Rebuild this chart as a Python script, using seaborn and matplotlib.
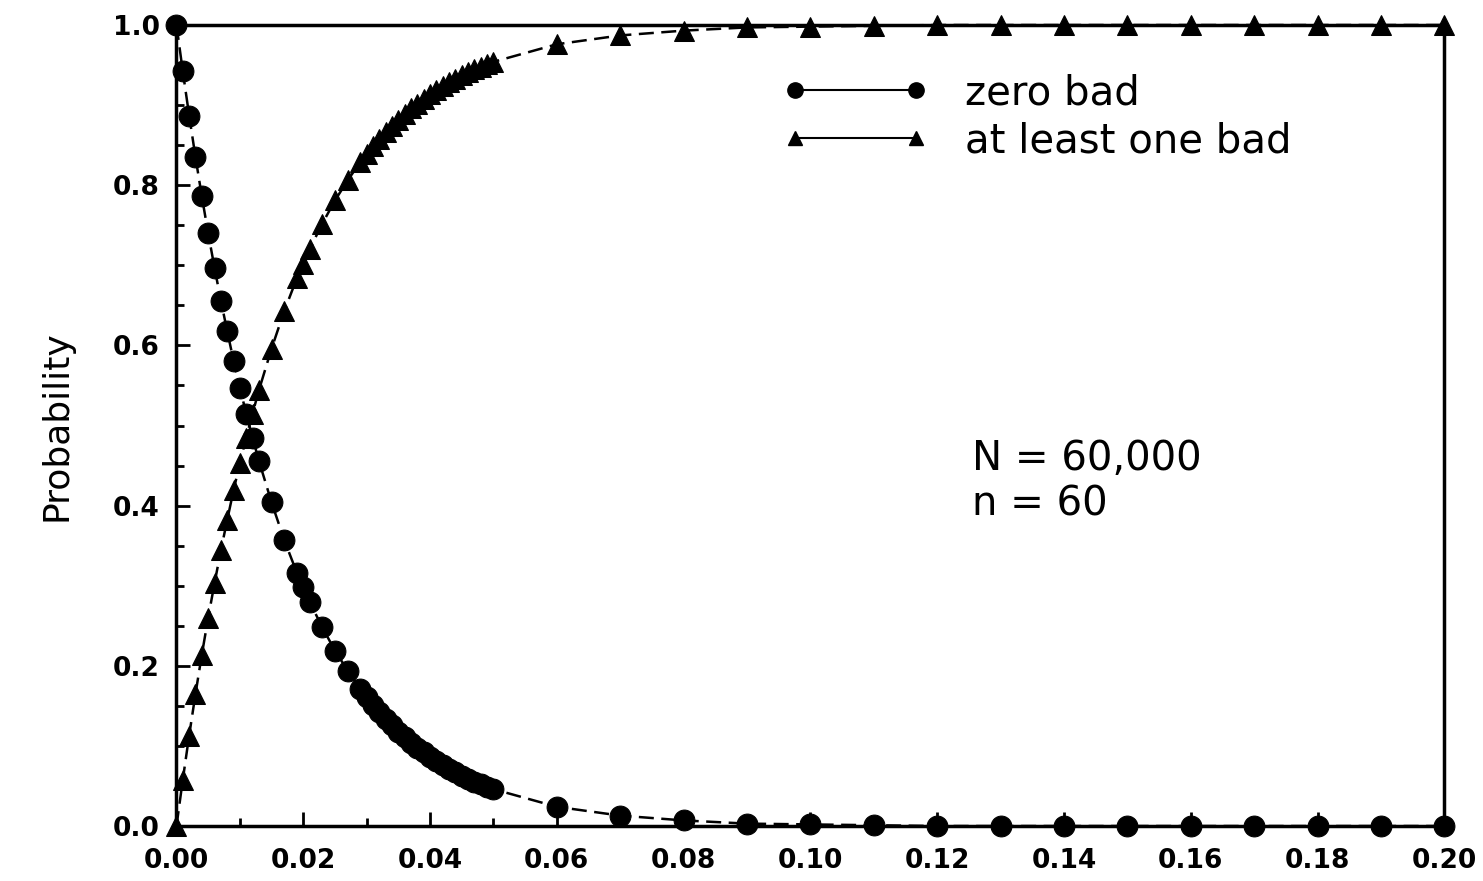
import numpy as np
import pandas as pd
import seaborn as sns
import matplotlib.pyplot as plt
from matplotlib.lines import Line2D
from matplotlib.ticker import MultipleLocator

# fraction defective (x axis)
frac_bad = [0.000, 0.001, 0.002, 0.003, 0.004, 0.005, 0.006, 0.007, 0.008, 0.009,
            0.010, 0.011, 0.012, 0.013, 0.015, 0.017, 0.019, 0.020, 0.021, 0.023,
            0.025, 0.027, 0.029, 0.030, 0.031, 0.032, 0.033, 0.034, 0.035, 0.036,
            0.037, 0.038, 0.039, 0.040, 0.041, 0.042, 0.043, 0.044, 0.045, 0.046,
            0.047, 0.048, 0.049, 0.050, 0.06, 0.07, 0.08, 0.09, 0.10, 0.11,
            0.12, 0.13, 0.14, 0.15, 0.16, 0.17, 0.18, 0.19, 0.20]

# probability of zero bad in the sample
zero_bad = [1.000, 0.942, 0.887, 0.835, 0.786, 0.740, 0.697, 0.656, 0.618, 0.581,
            0.547, 0.515, 0.485, 0.456, 0.404, 0.357, 0.316, 0.298, 0.280, 0.248,
            0.219, 0.194, 0.171, 0.161, 0.151, 0.142, 0.134, 0.126, 0.118, 0.111,
            0.104, 0.098, 0.092, 0.086, 0.081, 0.076, 0.071, 0.067, 0.063, 0.059,
            0.055, 0.052, 0.049, 0.046, 0.024, 0.013, 0.007, 0.003, 0.002, 0.001,
            0.000, 0.000, 0.000, 0.000, 0.000, 0.000, 0.000, 0.000, 0.000]

# probability of at least one bad
one_bad = [0.000, 0.058, 0.113, 0.165, 0.214, 0.260, 0.303, 0.344, 0.382, 0.419,
           0.453, 0.485, 0.515, 0.544, 0.596, 0.643, 0.684, 0.702, 0.720, 0.752,
           0.781, 0.806, 0.829, 0.839, 0.849, 0.858, 0.866, 0.874, 0.882, 0.889,
           0.896, 0.902, 0.908, 0.914, 0.919, 0.924, 0.929, 0.933, 0.937, 0.941,
           0.945, 0.948, 0.951, 0.954, 0.976, 0.987, 0.993, 0.997, 0.998, 0.999,
           1.000, 1.000, 1.000, 1.000, 1.000, 1.000, 1.000, 1.000, 1.000]

df = pd.DataFrame({'p': frac_bad, 'zero': zero_bad, 'one': one_bad})

sns.set_style("ticks")
plt.rcParams['font.family'] = ['DejaVu Sans']
plt.rcParams['text.color'] = 'black'
plt.rcParams['axes.labelcolor'] = 'black'

fig = plt.figure(figsize=(14.83, 8.81), dpi=100)
ax = fig.add_axes([0.119, 0.0624, 0.855, 0.9092])

sns.lineplot(data=df, x='p', y='zero', marker='o', markersize=15, color='black',
             linestyle=(0, (6, 3)), linewidth=1.8, markeredgecolor='black',
             clip_on=False, zorder=3, ax=ax)
sns.lineplot(data=df, x='p', y='one', marker='^', markersize=14, color='black',
             linestyle=(0, (6, 3)), linewidth=1.8, markeredgecolor='black',
             clip_on=False, zorder=3, ax=ax)

ax.set_xlim(0, 0.20)
ax.set_ylim(0, 1.0)
ax.xaxis.set_major_locator(MultipleLocator(0.02))
ax.xaxis.set_minor_locator(MultipleLocator(0.01))
ax.yaxis.set_major_locator(MultipleLocator(0.2))
ax.yaxis.set_minor_locator(MultipleLocator(0.05))
ax.tick_params(which='both', direction='in', width=2, colors='black')
ax.tick_params(which='major', length=10, labelsize=19)
ax.tick_params(axis='x', which='major', pad=16)
ax.tick_params(axis='y', which='major', pad=12)
ax.tick_params(which='minor', length=6)
ax.xaxis.set_major_formatter(plt.FuncFormatter(lambda v, _: '{:.2f}'.format(v)))
ax.yaxis.set_major_formatter(plt.FuncFormatter(lambda v, _: '{:.1f}'.format(v)))
for lab in ax.get_xticklabels() + ax.get_yticklabels():
    lab.set_fontweight('bold')
for s in ax.spines.values():
    s.set_linewidth(2.5)
    s.set_color('black')
    s.set_visible(True)

ax.set_xlabel('')
ax.set_ylabel('Probability', size=26, labelpad=28)

# legend with markers at both ends
handles = [Line2D([], [], color='black', marker='o', markersize=11, linewidth=1.5),
           Line2D([], [], color='black', marker='^', markersize=10, linewidth=1.5)]
ax.legend(handles, ['zero bad', 'at least one bad'], loc='upper left',
          bbox_to_anchor=(0.45, 0.985), frameon=False, numpoints=2,
          handlelength=3.6, handletextpad=0.9, fontsize=29, labelspacing=0.2)

ax.text(0.1255, 0.444, 'N = 60,000', fontsize=29, ha='left', va='baseline')
ax.text(0.1255, 0.388, 'n = 60', fontsize=29, ha='left', va='baseline')

fig.savefig('out.png', dpi=100)
